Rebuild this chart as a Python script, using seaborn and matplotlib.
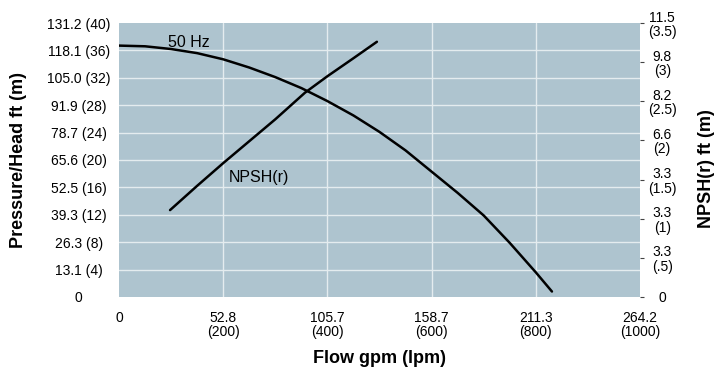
import pandas as pd
import seaborn as sns
import matplotlib.pyplot as plt

# Pump curve (50 Hz), flow in lpm, head in m
flow_lpm = [0, 50, 100, 150, 200, 250, 300, 350, 400, 450, 500, 550, 600, 650, 700, 750, 800, 831]
head_m = [36.7, 36.6, 36.2, 35.6, 34.7, 33.5, 32.1, 30.5, 28.6, 26.5, 24.1, 21.4, 18.3, 15.2, 11.9, 7.9, 3.6, 0.8]

# NPSH(r) curve, flow in lpm, NPSH in m
npsh_flow_lpm = [98, 150, 200, 250, 300, 357, 400, 450, 495]
npsh_m = [1.11, 1.42, 1.71, 1.99, 2.27, 2.61, 2.82, 3.05, 3.26]

# Tick values and labels
x_ticks = [0, 200, 400, 600, 800, 1000]
x_labels = ['0', '52.8\n(200)', '105.7\n(400)', '158.7\n(600)', '211.3\n(800)', '264.2\n(1000)']
head_ticks = [0, 4, 8, 12, 16, 20, 24, 28, 32, 36, 40]
head_labels = ['0', '13.1 (4)', '26.3 (8)', '39.3 (12)', '52.5 (16)', '65.6 (20)',
               '78.7 (24)', '91.9 (28)', '105.0 (32)', '118.1 (36)', '131.2 (40)']
npsh_ticks = [0, 0.5, 1, 1.5, 2, 2.5, 3, 3.5]
npsh_labels = ['0', '3.3\n(.5)', '3.3\n(1)', '3.3\n(1.5)', '6.6\n(2)', '8.2\n(2.5)', '9.8\n(3)', '11.5\n(3.5)']

head_df = pd.DataFrame({'flow': flow_lpm, 'head': head_m})
npsh_df = pd.DataFrame({'flow': npsh_flow_lpm, 'npsh': npsh_m})

sns.set_style('white', {'axes.facecolor': '#aec4cf'})
plt.rcParams['font.family'] = ['Liberation Sans', 'DejaVu Sans']
plt.rcParams['text.color'] = 'black'
plt.rcParams['axes.labelcolor'] = 'black'
plt.rcParams['xtick.color'] = 'black'
plt.rcParams['ytick.color'] = 'black'

fig = plt.figure(figsize=(7.26, 3.75), dpi=100)
ax = fig.add_axes([119 / 726, 78 / 375, 521 / 726, 274 / 375])

# grid lines inside the plot area
for v in x_ticks[1:-1]:
    ax.axvline(v, color='#e4ecef', lw=1.0, zorder=1)
for h in head_ticks[1:-1]:
    ax.axhline(h, color='#e4ecef', lw=1.0, zorder=1)

sns.lineplot(data=head_df, x='flow', y='head', ax=ax, color='black', lw=1.8, zorder=3)

ax.set_xlim(0, 1000)
ax.set_ylim(0, 40)
ax.set_xticks(x_ticks)
ax.set_xticklabels(x_labels, fontsize=10, linespacing=1.05)
ax.set_yticks(head_ticks)
ax.set_yticklabels(head_labels, fontsize=10, ha='center')
ax.tick_params(axis='y', length=0, pad=29)
ax.tick_params(axis='x', length=0, pad=10)
for s in ax.spines.values():
    s.set_visible(False)

ax.text(94, 37.1, '50 Hz', fontsize=11.5, ha='left', va='center')
ax.text(211, 17.5, 'NPSH(r)', fontsize=11.5, ha='left', va='center')

ax.set_xlabel('Flow gpm (lpm)', fontsize=13, fontweight='bold')
ax.xaxis.set_label_coords(0.5, -0.195)
ax.set_ylabel('Pressure/Head ft (m)', fontsize=13, fontweight='bold')
ax.yaxis.set_label_coords(-0.177, 0.5)

ax2 = ax.twinx()
ax2.set_facecolor('none')
sns.lineplot(data=npsh_df, x='flow', y='npsh', ax=ax2, color='black', lw=1.8)
ax2.set_ylim(0, 3.5)
ax2.set_yticks(npsh_ticks)
ax2.set_yticklabels(npsh_labels, fontsize=10, ha='center', linespacing=1.05)
ax2.tick_params(axis='y', length=3, width=0.8, color='#444444', pad=13)
for s in ax2.spines.values():
    s.set_visible(False)
ax2.set_ylabel('NPSH(r) ft (m)', fontsize=13, fontweight='bold')
ax2.yaxis.set_label_coords(1.111, 0.47)

fig.savefig('out.png', dpi=100)
